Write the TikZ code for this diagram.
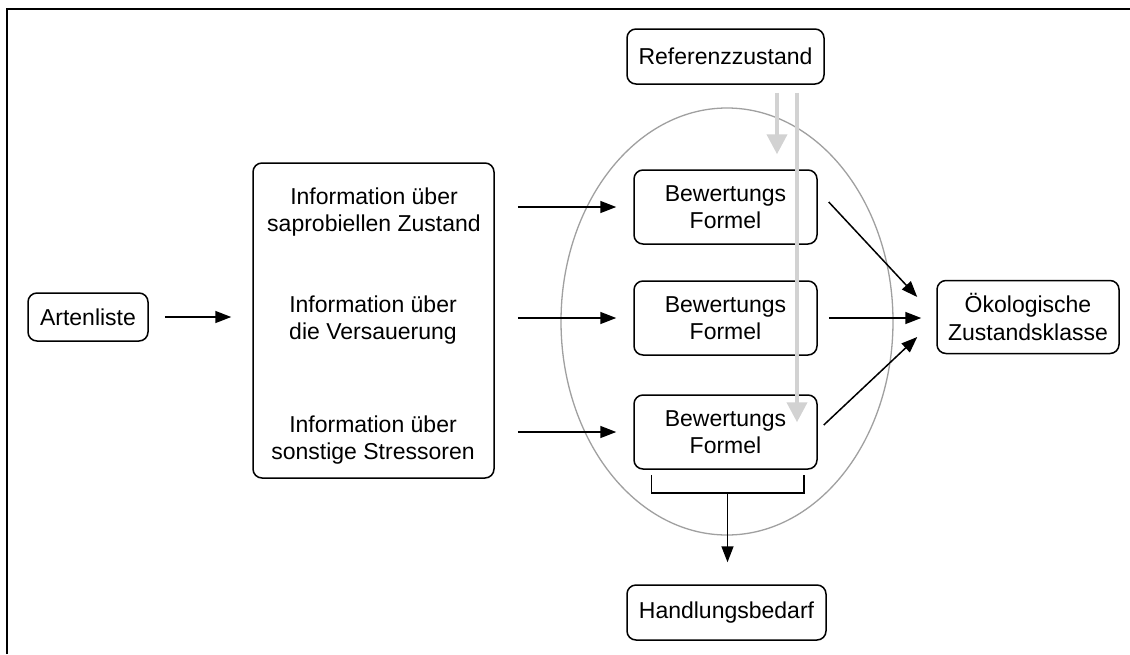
\documentclass[tikz,border=0pt]{standalone}
\usepackage{fontspec}
\setmainfont{Liberation Sans}
\usetikzlibrary{arrows.meta,calc,shapes.geometric}
\definecolor{lg}{HTML}{D2D2D2}
\definecolor{ellgray}{HTML}{A0A0A0}
\begin{document}
\begin{tikzpicture}[x=1pt,y=-1pt,
 box/.style={draw=black,line width=1.5pt,rounded corners=9pt,inner sep=0pt,align=center,font=\fontsize{23}{27.5}\selectfont},
 txt/.style={inner sep=0pt,align=center,font=\fontsize{23}{27.5}\selectfont},
 arr/.style={line width=1.5pt,-{Triangle[length=16pt,width=12pt]}},
 garr/.style={draw=lg,line width=4pt,-{Triangle[length=20pt,width=20pt]}},
 frame/.style={line width=2pt}
]
\useasboundingbox (0,0) rectangle (1130,654);
\fill[white] (0,0) rectangle (1130,654);
% frame
\draw[frame] (7,654) -- (7,9) -- (1130,9);
% ellipse
\node[draw=ellgray,line width=1.3pt,ellipse,minimum width=332pt,minimum height=427pt,inner sep=0pt] (ell) at (727,321.5) {};
% nodes
\node[box,minimum width=120pt,minimum height=48pt] (art) at (88,317) {Artenliste};
\node[box,minimum width=241pt,minimum height=315pt] (big) at (373.5,320.5) {};
\node[txt] (t1) at (374,212) {Information über\\saprobiellen Zustand};
\node[txt] (t2) at (373,320) {Information über\\die Versauerung};
\node[txt] (t3) at (373,440) {Information über\\sonstige Stressoren};
\node[box,minimum width=183pt,minimum height=74pt] (b1) at (725.5,207) {Bewertungs\\Formel};
\node[box,minimum width=183pt,minimum height=74pt] (b2) at (725.5,318) {Bewertungs\\Formel};
\node[box,minimum width=183pt,minimum height=74pt] (b3) at (725.5,432) {Bewertungs\\Formel};
\node[box,minimum width=197pt,minimum height=55pt] (ref) at (725.5,56.5) {Referenzzustand};
\node[box,minimum width=199pt,minimum height=55pt] (hand) at (726.5,612.5) {Handlungsbedarf};
\node[box,minimum width=182pt,minimum height=73pt] (oek) at (1028,317) {Ökologische\\Zustandsklasse};
% arrows
\draw[arr,shorten <=16pt,shorten >=21pt] (art.east) -- (art.east -| big.west);
\draw[arr,shorten <=23pt,shorten >=17pt] (big.east |- b1.west) -- (b1.west);
\draw[arr,shorten <=23pt,shorten >=17pt] (big.east |- b2.west) -- (b2.west);
\draw[arr,shorten <=23pt,shorten >=17pt] (big.east |- b3.west) -- (b3.west);
\coordinate (s1) at ($(b1.east)+(11,-5)$);
\coordinate (e1) at ($(oek.west)+(-19,-20)$);
\coordinate (s3) at ($(b3.east)+(6,-7)$);
\coordinate (e3) at ($(oek.west)+(-19,20)$);
\draw[arr] (s1) -- (e1);
\draw[arr,shorten <=11pt,shorten >=15pt] (b2.east) -- (b2.east -| oek.west);
\draw[arr] (s3) -- (e3);
% bracket
\coordinate (bl) at ($(b3.south west)+(18,5)$);
\coordinate (br) at ($(b3.south east)+(-14,5)$);
\coordinate (bm) at ($(bl)!0.5!(br)+(0,18)$);
\draw[line width=1.5pt] (bl) -- ++(0,18) -| (br);
\draw[arr,shorten >=22pt] (bm) -- (bm |- hand.north);
% gray arrows
\coordinate (g1) at ($(ref.south)+(51.5,8)$);
\coordinate (g2) at ($(ref.south)+(71.5,8)$);
\draw[garr] (g1) -- ($(g1 |- b1.north)+(0,-15)$);
\draw[garr] (g2) -- ($(g2 |- b3.north)+(0,28)$);
\end{tikzpicture}
\end{document}
